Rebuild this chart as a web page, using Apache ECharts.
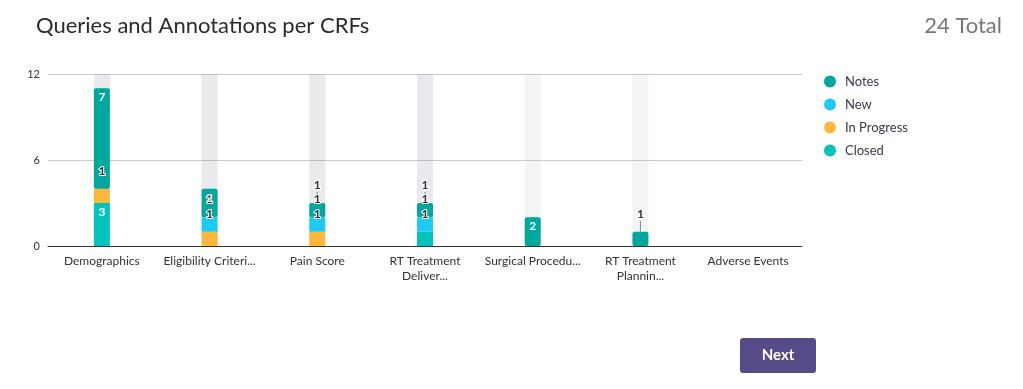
<!DOCTYPE html>
<html>
<head>
<meta charset="utf-8">
<script src="https://cdn.jsdelivr.net/npm/echarts@6/dist/echarts.min.js"></script>
<style>
  html, body { margin: 0; padding: 0; background: #fff; }
  #chart { width: 1023px; height: 389px; }
</style>
</head>
<body>
<div id="chart"></div>
<script>
const categories = ['Demographics', 'Eligibility Criteri...', 'Pain Score', 'RT Treatment\nDeliver...', 'Surgical Procedu...', 'RT Treatment\nPlannin...', 'Adverse Events'];
const closedValues = [3, null, null, 1];
const inProgressValues = [1, 1, 1, null];
const newValues = [null, 1, 1, 1];
const notesValues = [7, 2, 1, 1, 2, 1];
const yTicks = { min: 0, max: 12, interval: 6 };
const totalLabel = '24 Total';

const FONT = 'Lato, "Noto Sans", sans-serif';
const GRID = { left: 48, right: 221, top: 74, bottom: 143 };
const CHART_H = 389;
const SMALL_PX = 20;
const pxPerUnit = (CHART_H - GRID.top - GRID.bottom) / (yTicks.max - yTicks.min);

const chart = echarts.init(document.getElementById('chart'), null, { renderer: 'canvas' });

function smallLabelLayout(p) {
  if (p.rect.height < SMALL_PX) {
    return {
      x: p.rect.x + p.rect.width / 2,
      y: p.rect.y - 18,
      align: 'center',
      verticalAlign: 'middle'
    };
  }
  return {};
}

function labelFormatter(p) {
  const small = p.value * pxPerUnit < SMALL_PX;
  return (small ? '{o|' : '{i|') + p.value + '}';
}

const bgStyle = { color: 'rgba(105,118,143,0.08)' };

function makeSeries(name, values, color, extra) {
  return Object.assign({
    name: name,
    type: 'bar',
    stack: 'total',
    barWidth: 16,
    data: values,
    itemStyle: { color: color },
    label: {
      show: true,
      position: 'insideTop',
      distance: 3,
      formatter: labelFormatter,
      rich: {
        i: { color: '#ffffff', fontSize: 12, fontWeight: 'bold', fontFamily: FONT,
             textBorderWidth: 0 },
        o: { color: '#333333', fontSize: 12, fontWeight: 'bold', fontFamily: FONT,
             textBorderColor: '#ffffff', textBorderWidth: 2 }
      }
    },
    labelLine: { show: true, lineStyle: { color: '#8a8a8a', width: 1 } },
    labelLayout: smallLabelLayout
  }, extra || {});
}

const option = {
  animation: false,
  textStyle: { fontFamily: FONT },
  title: [
    { text: 'Queries and Annotations per CRFs', left: 31, top: 10,
      textStyle: { fontSize: 22, fontWeight: 'normal', color: '#2b2b2b', fontFamily: FONT } },
    { text: totalLabel, right: 16, top: 10,
      textStyle: { fontSize: 22, fontWeight: 'normal', color: '#777', fontFamily: FONT } }
  ],
  legend: {
    orient: 'vertical',
    left: 819,
    top: 70,
    icon: 'circle',
    itemWidth: 12,
    itemHeight: 12,
    itemGap: 10,
    data: ['Notes', 'New', 'In Progress', 'Closed'],
    textStyle: { fontSize: 13, color: '#363b47', fontFamily: FONT, padding: [0, 0, 0, 4] }
  },
  grid: Object.assign({ containLabel: false }, GRID),
  xAxis: {
    type: 'category',
    data: categories,
    axisLine: { lineStyle: { color: '#333', width: 1 } },
    axisTick: { show: false },
    axisLabel: { fontSize: 12, color: '#333', fontFamily: FONT, margin: 8, lineHeight: 15, interval: 0 }
  },
  yAxis: {
    type: 'value',
    min: yTicks.min, max: yTicks.max, interval: yTicks.interval,
    axisLine: { show: false },
    axisTick: { show: false },
    axisLabel: { fontSize: 11, color: '#333', fontFamily: FONT, margin: 8 },
    splitLine: { lineStyle: { color: '#cccccc', width: 1 } }
  },
  series: [
    makeSeries('Closed', closedValues, '#00c4bc'),
    makeSeries('In Progress', inProgressValues, '#fdb83c'),
    makeSeries('New', newValues, '#1ccaf7', { showBackground: true, backgroundStyle: bgStyle }),
    makeSeries('Notes', notesValues, '#00a79d', { showBackground: true, backgroundStyle: bgStyle,
      itemStyle: { color: '#00a79d', borderRadius: 2 } })
  ],
  graphic: [
    {
      type: 'group', left: 740, top: 338,
      children: [
        { type: 'rect', shape: { x: 0, y: 0, width: 76, height: 35, r: 3 }, style: { fill: '#564a89' } },
        { type: 'text', style: { text: 'Next', x: 38, y: 17.5, align: 'center', verticalAlign: 'middle',
            fill: '#fff', font: 'bold 15px ' + FONT } }
      ]
    }
  ]
};
chart.setOption(option);
</script>
</body>
</html>
